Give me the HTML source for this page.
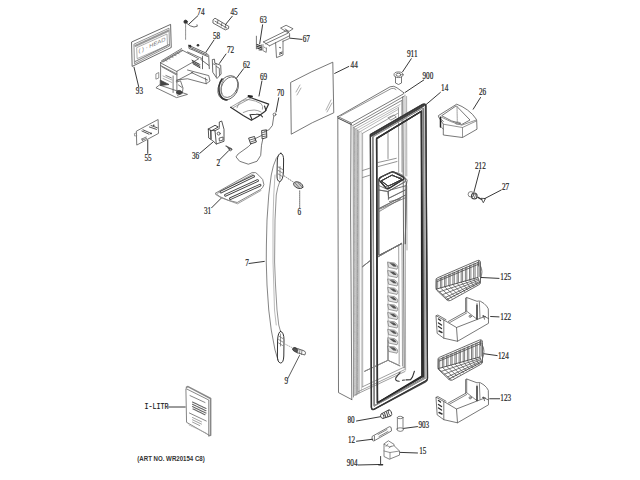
<!DOCTYPE html>
<html><head><meta charset="utf-8">
<style>
html,body{margin:0;padding:0;background:#fff;width:640px;height:480px;overflow:hidden}
svg{position:absolute;left:0;top:0}
.t{font-family:"Liberation Serif",serif;font-size:9.4px;fill:#111;stroke:#333;stroke-width:0.2px}
</style></head><body>
<svg width="640" height="480" viewBox="0 0 640 480">
<g fill="none" stroke="#555" stroke-width="0.8" stroke-linejoin="round" stroke-linecap="round">
<!-- 93 panel -->
<path d="M131.9,41.9 L170.6,24.4 L171.25,47.5 L132.5,66.25 Z" stroke="#444"/>
<path d="M134.3,44 L169,28.2 L169.5,46 L134.8,63.6 Z" stroke="#777"/>
<path d="M137,47.5 L167,34 L167.5,45.5 L137.5,58.5 Z" stroke="#999"/>
<path d="M135.5,45.8 L168.3,30.8" stroke="#999" stroke-width="2.2" stroke-dasharray="0.8,0.8"/>
<path d="M135.2,61.5 L169.2,44.5" stroke="#888" stroke-width="1.2" stroke-dasharray="1,0.7"/>
<text transform="translate(138.5,53) skewY(-24.3)" textLength="27" lengthAdjust="spacingAndGlyphs" style="font-family:'Liberation Sans',sans-serif;font-size:5.6px;fill:#777;stroke:none">(  )  &#183; HEAD</text>
<!-- 74 -->
<circle cx="185.6" cy="21.8" r="1.7" fill="#333" stroke="#333"/>
<path d="M185.6,24 L185.6,40" stroke="#777" stroke-dasharray="1,0.6"/>
<path d="M187,23.5 Q190,26.5 194,27 L197.3,26.2 L197,24.8" stroke="#444"/>
<!-- 45 -->
<path d="M213.3,19.6 L215,18.2 L228.8,26.4 L228.5,28.6 L225.3,29.9 L213.3,23.2 Z" stroke="#444"/>
<path d="M215,21.2 L226.8,28 M218,20.3 L217.3,23.6 M222,22.8 L221.3,26 M225.8,25 L225,28.2" stroke="#555"/>
<!-- 58 housing -->
<path d="M160.6,62.5 L181.9,50 L198.75,58.75 L176.9,71.25 Z" stroke="#555"/>
<path d="M161.5,60.8 L181.6,48.6 M163,62 L182.6,50.6" stroke="#555"/>
<path d="M165,60 L167,61 M168,58.2 L170,59.2 M171,56.4 L173,57.4 M174,54.6 L176,55.6 M177,52.8 L179,53.8" stroke="#777"/>
<path d="M160.6,65.5 L176.9,74" stroke="#666"/>
<path d="M160.6,62.5 L160.6,85 M176.9,71.25 L176.9,94 M173.1,76 L173.1,92.5" stroke="#555"/>
<path d="M156.25,87.5 L159.4,85 L187.5,94.4 L176.9,97.5 Z" stroke="#555"/>
<path d="M160.6,80.3 L169,84.5 L160.6,85.5 Z" fill="#444" stroke="#444"/>
<path d="M156.25,73.75 L158.75,72.5 L158.75,78 L156.25,79 Z" stroke="#777"/>
<path d="M176.9,80 L187.5,78.75 L206.25,83.75 L210,81 L208.75,75.6 L187.5,70 M191.25,72.5 L207.5,80 M206.25,83.75 L205.5,78" stroke="#555"/>
<path d="M188.7,45.3 L207,53.5 L208.7,55.5 L209.3,68.7 M190,47.3 L207.3,55.2 M192,49.5 L207.5,56.5 M188.7,45.3 L189,48.5 L192,49.5 M202.5,56.25 L202.5,68.75 M200.7,59.3 L208.7,65.3" stroke="#444"/>
<circle cx="190" cy="46" r="1.3" fill="#333" stroke="none"/>
<circle cx="198" cy="45.3" r="1.3" fill="#333" stroke="none"/>
<path d="M192.5,62 L199.5,66 M193,63.8 L200,67.8 M192,60.2 L199,64.2" stroke="#333" stroke-width="0.9"/>
<path d="M187.5,51.9 L202.5,58.75 M192.5,61 L200,64.5 M193,63 L200,66.5" stroke="#555"/>
<path d="M176.5,82 L180.5,80.8 L183,88 L182.3,93.5 L177.5,95.3 M178.5,85 L182,87.5" stroke="#555"/>
<ellipse cx="179.2" cy="92.3" rx="2.6" ry="1.9" fill="#444" stroke="#333"/>
<path d="M176.2,81 L192.9,72.3 M161.9,66.8 L176.2,74.7 M165.9,75.5 L171.4,77.9" stroke="#555"/>
<path d="M163,76 L172,80 M163,78.5 L172,82.5" stroke="#999"/>
<!-- 72 -->
<path d="M212.7,59.5 L214.5,59.2 L214.8,63.2 L216,63.5 L220.7,65.3 L221.1,74 L217,78.5 L213,72.6 Z" stroke="#444"/>
<path d="M216,63.5 L216.3,76.8 M216.3,66.5 L219.3,68.2 L219.5,75.5 M213.5,64 L214.8,64.5" stroke="#555"/>
<!-- 62 ring -->
<ellipse cx="228.2" cy="87.8" rx="9.6" ry="12.8" transform="rotate(28 228.2 87.8)" stroke="#555"/>
<ellipse cx="229.4" cy="87.2" rx="7.6" ry="10.9" transform="rotate(28 229.4 87.2)" stroke="#666"/>
<path d="M222,79 Q217,86 220,95 Q223,100 227,100" stroke="#333" stroke-width="1.6"/>
<path d="M223.5,79.5 Q219.5,87 222,94" stroke="#777"/>
<!-- 63 spring -->
<path d="M256.4,36.2 L256.4,48.9" stroke="#555"/>
<path d="M257,44.5 L261,46 M257,46.3 L261.3,47.8 M257.2,48 L261.3,49.6" stroke="#333" stroke-width="1.1"/>
<path d="M261.3,44.8 L261.6,50.2 L259,50" stroke="#555"/>
<!-- 67 bracket -->
<path d="M263.4,41.9 L286.5,30.6 M265.5,43.8 L288.3,33 M269.5,45.8 L289.6,35.75 M263.4,41.9 L269.5,45.8 M286.5,30.6 L289.6,33.5 L289.6,38.4 L283,41.3" stroke="#555"/>
<path d="M280.9,27.9 L286.1,25.25 L293.1,28.75 L287.9,32.25 Z M285,29 L288.5,31" stroke="#555"/>
<path d="M275.6,42.75 L276.5,57.6 L283,55 L283,41" stroke="#555"/>
<path d="M279.6,47.5 L280.6,47.8 M279.5,53 L282,52 M279.5,54.3 L282,53.3" stroke="#444" stroke-width="0.9"/>
<path d="M263,44.5 L262.8,50.5 L266.2,52.4 L266.5,48 M264,47 L265.5,48" stroke="#666"/>
<!-- 69 tray -->
<path d="M230.6,107.3 L248.5,96.8 M233.5,107.5 L250.5,98.3" stroke="#888"/>
<path d="M248.4,96.8 L268.7,104.1 L265.2,111.3 L258,116.5 L251.4,120.3 L243.2,115.4 L230.6,107.3" stroke="#333" stroke-width="1.2"/>
<path d="M248.5,96 L252,96.5" stroke="#222" stroke-width="1.8"/>
<path d="M237,107.8 Q238.5,102 241.8,101 Q245,99.5 248.7,99.6 Q256,100.5 261.1,103.7 Q263.5,106 262.5,109.2" stroke="#888"/>
<path d="M243.2,112.5 Q248,110 254.2,110 Q258,110.2 261.1,112" stroke="#888"/>
<path d="M250,114.7 L252,119.5 M250,114.7 L256,114.3 Q259,114 260.4,114.7 L262.5,116.8 M264.5,106 L266,110.5" stroke="#333" stroke-width="1.1"/>
<!-- 70 wire -->
<circle cx="274.5" cy="114.5" r="1.4" stroke="#555"/>
<path d="M273.8,116 L272.4,125.5 L268.75,130 L264.5,131.2" stroke="#555"/>
<path d="M262.9,138.6 L261.5,145.2 L260.7,155.4 L257,161.25 L248.3,164.2 L239.6,161.25 L236,156.9 L238.1,154 L248.3,146.7 L251.5,143.5" stroke="#555"/>
<path d="M262,130.5 L266.5,129.8 L266.8,137.5 L262.5,138.8 Z" stroke="#333" stroke-width="0.9"/>
<path d="M262.6,132.5 L266.2,131.8 M262.6,134.6 L266.4,133.9 M262.6,136.6 L266.5,136" stroke="#444" stroke-width="0.8"/>
<path d="M249,138 L254.5,136.5 L256.4,142 L251,143.8 Z" stroke="#333" stroke-width="0.9"/>
<path d="M250,140 L255,138.5 M250.6,142 L255.6,140.4" stroke="#444" stroke-width="0.8"/>
<path d="M254.5,139 L262.5,135" stroke="#555"/>
<!-- 44 glass -->
<path d="M291,82.25 Q312,71 332.8,62.2 L333.75,112.8 Q312,122 291.6,134 Z"/>
<path d="M296,92 L300,85 M297,95 L301,88 M326,110 L331,100 M327,112 L332,103" stroke="#999"/>
<!-- 55 -->
<path d="M136.7,131 L158.1,119.5 L158.5,133.4 L137.1,144.9 Z" stroke="#555"/>
<path d="M136.7,133 L134.4,133.5 L134.6,136 L136.8,135.8" stroke="#888"/>
<path d="M141.9,131 L149,134.2 M143,129.8 L150.2,133 M149.4,127 L156.5,129.4 M151,125.5 L157.3,127.8" stroke="#444" stroke-width="0.9"/>
<path d="M141.9,139 L146.2,137 M142.3,140.3 L146.6,138.3 M141.9,139 L142.3,140.3" stroke="#555"/>
<circle cx="153.75" cy="125.2" r="0.8" fill="#333" stroke="none"/>
<circle cx="151" cy="133.4" r="0.9" fill="#333" stroke="none"/>
<!-- 36 switch -->
<path d="M208.3,129 L215,125.3 L218.3,127 L212,130.5 Z" stroke="#333" stroke-width="0.9"/>
<path d="M208.3,129 L208.7,138 L212.7,140.7 L216.3,144 L224,141.3 L224,129.3 L221.7,121 L219.3,122 L219.3,127.3 M212,130.5 L215,130.7 L216.3,144 M215,130.7 L219.3,128.5" stroke="#444" stroke-width="0.9"/>
<path d="M210.8,130.3 L211,138.8" stroke="#333" stroke-width="1.3"/>
<circle cx="218.7" cy="133.6" r="1.5" stroke="#444"/>
<path d="M219.5,138 L223,137 L223,140 L219.8,141 Z" stroke="#444"/>
<!-- 2 screw -->
<path d="M226,146 L231.5,149 M227.5,147 L230,149.8" stroke-width="1.2"/>
<circle cx="230.5" cy="149.5" r="1.3"/>
<!-- 31 grille -->
<path d="M215.6,193.1 L252.2,172.5 Q256,171.5 258.75,175.3 Q264,179 263.9,184.7 Q263,188 260.6,189.4 L237.2,202.5 Q228,201 220.3,196.9 Z" stroke="#666"/>
<path d="M217.5,193.3 L253,174 M215.6,194.5 L221.25,197.8 L237.5,203.8 L261,190.5" stroke="#888"/>
<g stroke-linecap="round">
<path d="M221,192 L253.5,176.3 M225.5,195.2 L257.5,180.6 M230.5,198.6 L260,185.2" stroke="#444" stroke-width="2.8"/>
<path d="M221,192 L253.5,176.3 M225.5,195.2 L257.5,180.6 M230.5,198.6 L260,185.2" stroke="#fff" stroke-width="1"/>
</g>
<!-- 6 -->
<ellipse cx="298.3" cy="185.2" rx="5" ry="3" transform="rotate(25 298.3 185.2)" fill="#ccc" stroke="#333"/>
<path d="M295.5,183.5 L299,187.5 M298,182.5 L301.5,186.5" stroke="#666"/>
<path d="M299.7,190.8 L299.7,208.3" stroke-dasharray="1.2,0.8"/>
<path d="M284,175.8 L294,182.5" stroke-dasharray="1,1.5" stroke="#999"/>
<!-- 7 handle -->
<path d="M278.2,156 L276.3,158.3 Q273,165 271.25,175 L268.75,195 L267,220 L266.4,245 L266.25,262 L267,285 L268.75,310 L271.25,330 L275,350 L278,360" stroke="#666"/>
<path d="M279.7,181.7 Q277.5,187 276.25,195 L275,220 L274.6,262 L275.5,285 L277,310 L278.75,325 L280.5,331.3" stroke="#777"/>
<path d="M275,175 L273.75,195 L273,220 L273,262 L273.75,285 L274.5,310 L276.25,325" stroke="#aaa"/>
<path d="M280.9,153.3 Q283.6,154 283.6,160 L283.4,172 Q283,180.5 279.7,181.7 Q277,181 277,176 L277.3,160 Q277.8,153.5 280.9,153.3 Z" stroke="#333" stroke-width="1"/>
<path d="M278.3,167 L282.6,169.5 M278.3,170.5 L282.6,173 M278.3,174 L282.3,176.5 M280,166.5 L280,179" stroke="#666" stroke-width="0.7"/>
<path d="M280.6,331.3 Q284,332 284,340 L283.8,356 Q283.5,363 280.6,363 Q277.4,362.5 277.4,356 L277.6,340 Q278,332 280.6,331.3 Z" stroke="#333" stroke-width="1"/>
<path d="M278.6,336 L282.8,338.5 M278.6,339.5 L282.8,342 M278.6,343 L282.6,345.5 M280.5,334 L280.5,346" stroke="#666" stroke-width="0.7"/>
<path d="M284,175.8 L294,182.5" stroke-dasharray="1,1.5" stroke="#999"/>
<path d="M284.4,343.75 L294.8,349" stroke-dasharray="1,1.5" stroke="#999"/>
<!-- 9 -->
<ellipse cx="295.2" cy="349.8" rx="1.8" ry="2.8" transform="rotate(-60 295.2 349.8)" fill="#555" stroke="#333"/>
<path d="M294.3,347.5 L304.5,351 Q306.5,352.5 304.8,355 L296,352.3" stroke="#444"/>
<path d="M298,348.8 L297.5,353 M300,349.5 L299.5,353.8 M302,350.2 L301.5,354.5" stroke="#666"/>
<path d="M299.5,355.5 L287.8,378.5" stroke="#333"/>
<!-- door 900 -->
<path d="M337.9,116.6 L390.1,86.8 Q394,85.3 397,87.8 L403.6,92.6"/>
<path d="M337.9,116.6 L351.4,123.1 L403.6,93.8 L403.6,92.6"/>
<path d="M340.5,116 L391.2,88.6 Q394,87.5 396,89.5" stroke="#777"/>
<path d="M338.2,118.2 L351.4,124.6" stroke="#444" stroke-width="1"/>
<path d="M337.8,116.6 L338.5,392.6 L351.8,399.6 M351,123.1 L350.6,212 L351.8,399.6"/>
<path d="M352.6,125.6 L404.2,96.2 M353.8,127.4 L401.8,100.4" stroke="#666"/>
<path d="M355.5,129 L400,104.5 M357.5,130.5 L399,107 M359.5,132 L398,109.5" stroke="#aaa"/>
<path d="M362.3,133.5 L397.5,113.5" stroke="#888"/>
<path d="M353.2,127 L353.5,397" stroke="#777"/>
<path d="M354.6,128 L354.9,396 M357.4,130 L357.6,394" stroke="#888" stroke-dasharray="1.2,0.6"/>
<path d="M356,129 L356.3,395 M358.8,131 L359,393" stroke="#777"/>
<path d="M361.2,132 L361.4,390" stroke="#bbb"/>
<path d="M362.6,133.5 L362.7,386.9" stroke="#999"/>
<path d="M402.8,97 L403.4,212 L404.2,368" stroke="#444"/>
<path d="M405,95 L405.2,176 M405.2,186 L405.6,370 M406.6,96.5 L406.8,176 M406.8,186 L407,250" stroke="#999"/>
<path d="M401.8,100.4 L402,172 M398.5,108 L398.7,172 M402,244 L402.5,366 M398.7,246 L399.2,364" stroke="#888"/>
<path d="M355,395 L405,371.5 M358.4,391.6 L404.5,369.7 M362.3,386.9 L403.75,367.3" stroke="#888"/>
<path d="M388,132.5 L388,158.5 M378,162.5 L396.3,158.3 M378.3,166.5 L397,161.5 M362.6,170.5 L369.5,168.3 M362.6,177.5 L369.5,175.3" stroke="#777"/>
<path d="M388.5,117.5 L394,115 L396.3,117 L391,120 Z" stroke="#777"/>
<!-- dispenser -->
<path d="M379,179.3 Q379.2,178 381,177 L391,172.3 Q392.75,171.6 394.5,172.4 L403.2,177 Q404.8,178.3 403.2,179.6 L389.6,187.9 Q387.6,188.9 385.8,187.9 L380.2,181.3 Q378.8,180.3 379,179.3 Z" stroke="#333" stroke-width="1.2"/>
<path d="M381.6,180.6 L392.2,175 L401.8,179.5 L388.6,186 Z" stroke="#333" stroke-width="1"/>
<path d="M378.7,180 L378.7,255 M378.7,190 L388,191.5 L405.3,181.6 L405.3,178.8 M388,191.5 L388.6,197.5 M388.6,198.3 L405.3,190 M378.7,208.7 L405.3,195.2 M406.3,182 L405.3,243.75 M379.5,255 L401.6,243.75" stroke="#666"/>
<path d="M378.7,211.8 L400,199.3" stroke="#999"/>
<path d="M362.5,266.7 L370,260.8 M378.3,256.7 L401.7,243.3" stroke="#777"/>
<path d="M364.7,371.25 L388,360.3 L399.8,365.8 M388,360.3 L388,340" stroke="#888"/>
<!-- gasket 14 -->
<path d="M371.3,407 L370.4,134.4 L423,104.2 Q425.8,103.4 426.2,106" stroke="#444" stroke-width="1.1"/>
<path d="M426.2,106 L427.4,379" stroke="#999" stroke-width="0.9"/>
<path d="M427.4,379 Q427.4,381 425.5,382 L374,409.5 Q371.3,410.3 371.3,407" stroke="#444" stroke-width="1.1"/>
<path d="M371.5,135.8 L424,105.5" stroke="#444" stroke-width="1.6"/>
<path d="M373,136.8 L374.3,406" stroke="#555" stroke-width="1"/>
<path d="M374.3,406 L425.8,378" stroke="#666" stroke-width="0.9"/>
<path d="M425.4,107 L425.9,378" stroke="#aaa" stroke-width="0.8"/>
<path d="M423.5,108.5 L423.9,377.5" stroke="#444" stroke-width="1.1"/>
<path d="M376.6,138.4 L421.3,111.2 L421.8,376 L377.4,402.8 Z" stroke="#222" stroke-width="1.3"/>
<!-- dispenser -->
<path d="M379,179.3 Q379.2,178 381,177 L391,172.3 Q392.75,171.6 394.5,172.4 L403.2,177 Q404.8,178.3 403.2,179.6 L389.6,187.9 Q387.6,188.9 385.8,187.9 L380.2,181.3 Q378.8,180.3 379,179.3 Z" stroke="#333" stroke-width="1.2"/>
<path d="M381.6,180.6 L392.2,175 L401.8,179.5 L388.6,186 Z" stroke="#333" stroke-width="1"/>
<path d="M378.7,180 L378.7,255 M378.7,190 L388,191.5 L405.3,181.6 L405.3,178.8 M388,191.5 L388.6,197.5 M388.6,198.3 L405.3,190 M378.7,208.7 L405.3,195.2 M406.3,182 L405.3,243.75 M379.5,255 L401.6,243.75" stroke="#666"/>
<path d="M378.7,211.8 L400,199.3" stroke="#999"/>
<path d="M362.5,266.7 L370,260.8 M378.3,256.7 L401.7,243.3" stroke="#777"/>
<path d="M364.7,371.25 L388,360.3 L399.8,365.8 M388,360.3 L388,340" stroke="#888"/>
<!-- gasket 14 -->
<path d="M370.4,134.4 L422.5,104.2 Q425.6,103 425.8,106 L427.6,378.3 Q427.6,380 425.5,381 L374,409.3 Q371.3,410.3 371.3,407 Z" stroke="#555" stroke-width="1.1"/>
<path d="M371.5,135.6 L423.6,105.6" stroke="#444" stroke-width="1.6"/>
<path d="M373,136.6 L422.8,108 L423.9,206 L424.4,377.6 L374.3,405.5 Z" stroke="#666" stroke-width="0.9"/>
<path d="M376.6,138.6 L421.3,111.2 L422.8,376.2 L377.4,402.8 Z" stroke="#222" stroke-width="1.3"/>
<path d="M425.8,107 L427.6,378" stroke="#aaa" stroke-width="0.8" transform="translate(-1.6,0)"/>
<!-- dispenser -->
<path d="M379,180 Q381,176 391.25,172.5 Q399,172 403,175.5 L407.2,180 L406.3,185.6 L389.4,190.3 L379,185.6 Z"/>
<path d="M381.5,181 L391.25,175.5 L401.6,178 L399.7,181.9 L385.6,186.6 Z" stroke="#444"/>
<path d="M379,186 L379,255 M388.4,191.25 L388.4,199.7 M380,209 L405.3,197.8 M389.4,201.6 L400.6,198.75 M406.3,185.6 L405.3,243.75 M380,255 L401.6,243.75" stroke="#666"/>
<path d="M362.5,266.7 L370,260.8 M378.3,256.7 L401.7,243.3" stroke="#777"/>
<path d="M364.7,371.25 L388,360.3 L399.8,365.8 M388,360.3 L388,340" stroke="#888"/>
<!-- gasket 14 -->
<path d="M370.4,134.8 L422.5,104.8 Q425.5,103.8 425.8,106.5 L427.5,378.5 Q427.5,380 425.5,381 L374,409.2 Q371.5,410 371.5,407 Z" stroke="#333" stroke-width="1.3"/>
<path d="M373.2,136.8 L423,107.8 L424.9,378 L374.6,405.8 Z" stroke="#999" stroke-width="0.8"/>
<path d="M376.5,138.6 L421.5,111.2 L423.4,376.5 L377.6,403 Z" stroke="#333" stroke-width="1.3"/>
<!-- pockets -->
<path d="M387.8,262 L388.3,352" stroke="#aaa"/>
<path d="M388,262.2 L394.5,263.0 Q397.5,264.7 397.8,267.2 L397,269.2 L389,267.5 Z" stroke="#777" stroke-width="0.7" fill="#e4e4e4"/>
<path d="M389.3,263.1 L394,263.6 Q396,264.8 396.6,266.8 L393.5,266.4 Z" fill="#555" stroke="none"/>
<path d="M388,270.6 L394.5,271.4 Q397.5,273.1 397.8,275.6 L397,277.6 L389,275.9 Z" stroke="#777" stroke-width="0.7" fill="#e4e4e4"/>
<path d="M389.3,271.5 L394,272.0 Q396,273.2 396.6,275.2 L393.5,274.8 Z" fill="#555" stroke="none"/>
<path d="M388,279.0 L394.5,279.8 Q397.5,281.5 397.8,284.0 L397,286.0 L389,284.3 Z" stroke="#777" stroke-width="0.7" fill="#e4e4e4"/>
<path d="M389.3,279.9 L394,280.4 Q396,281.6 396.6,283.6 L393.5,283.2 Z" fill="#555" stroke="none"/>
<path d="M388,287.4 L394.5,288.2 Q397.5,289.9 397.8,292.4 L397,294.4 L389,292.7 Z" stroke="#777" stroke-width="0.7" fill="#e4e4e4"/>
<path d="M389.3,288.3 L394,288.8 Q396,290.0 396.6,292.0 L393.5,291.6 Z" fill="#555" stroke="none"/>
<path d="M388,295.8 L394.5,296.6 Q397.5,298.3 397.8,300.8 L397,302.8 L389,301.1 Z" stroke="#777" stroke-width="0.7" fill="#e4e4e4"/>
<path d="M389.3,296.7 L394,297.2 Q396,298.4 396.6,300.4 L393.5,300.0 Z" fill="#555" stroke="none"/>
<path d="M388,304.2 L394.5,305.0 Q397.5,306.7 397.8,309.2 L397,311.2 L389,309.5 Z" stroke="#777" stroke-width="0.7" fill="#e4e4e4"/>
<path d="M389.3,305.1 L394,305.6 Q396,306.8 396.6,308.8 L393.5,308.4 Z" fill="#555" stroke="none"/>
<path d="M388,312.6 L394.5,313.4 Q397.5,315.1 397.8,317.6 L397,319.6 L389,317.9 Z" stroke="#777" stroke-width="0.7" fill="#e4e4e4"/>
<path d="M389.3,313.5 L394,314.0 Q396,315.2 396.6,317.2 L393.5,316.8 Z" fill="#555" stroke="none"/>
<path d="M388,321.0 L394.5,321.8 Q397.5,323.5 397.8,326.0 L397,328.0 L389,326.3 Z" stroke="#777" stroke-width="0.7" fill="#e4e4e4"/>
<path d="M389.3,321.9 L394,322.4 Q396,323.6 396.6,325.6 L393.5,325.2 Z" fill="#555" stroke="none"/>
<path d="M388,329.4 L394.5,330.2 Q397.5,331.9 397.8,334.4 L397,336.4 L389,334.7 Z" stroke="#777" stroke-width="0.7" fill="#e4e4e4"/>
<path d="M389.3,330.3 L394,330.8 Q396,332.0 396.6,334.0 L393.5,333.6 Z" fill="#555" stroke="none"/>
<path d="M388,337.8 L394.5,338.6 Q397.5,340.3 397.8,342.8 L397,344.8 L389,343.1 Z" stroke="#777" stroke-width="0.7" fill="#e4e4e4"/>
<path d="M389.3,338.7 L394,339.2 Q396,340.4 396.6,342.4 L393.5,342.0 Z" fill="#555" stroke="none"/>
<path d="M388,346.2 L394.5,347.0 Q397.5,348.7 397.8,351.2 L397,353.2 L389,351.5 Z" stroke="#777" stroke-width="0.7" fill="#e4e4e4"/>
<path d="M389.3,347.1 L394,347.6 Q396,348.8 396.6,350.8 L393.5,350.4 Z" fill="#555" stroke="none"/>
<path d="M400,372.5 L395.8,377.8 Q394.8,381 399.2,381.3 M402.5,380.3 L404.5,380 M406,379.9 L410.6,379.6 L412.5,376.9 L414.4,371.3" stroke="#333" stroke-width="1.1"/>
<!-- 911 -->
<ellipse cx="398.5" cy="74.75" rx="4.5" ry="2.8"/>
<ellipse cx="398.5" cy="74.75" rx="2.5" ry="1.5"/>
<path d="M395.5,77 L395.5,83 Q398.5,86 401.5,83 L401.5,77"/>
<!-- 26 -->
<path d="M438.75,115.4 L456.7,104.2 Q462,106 467.5,110 Q473,114 476.25,119.2 L476.7,120.8 L477,129.2 L462.5,137.5 L443.3,135 L443.3,124.2 L438.75,117.2 Z" stroke="#555"/>
<path d="M442,115.5 L456.25,105.8 L470,120 L461.7,124.5 Q457,122 452,121 Z" stroke="#555"/>
<path d="M457,106.5 L457.3,121.5" stroke="#888" stroke-dasharray="1,0.8"/>
<ellipse cx="457.8" cy="123.2" rx="2.6" ry="1.1" stroke="#777"/>
<path d="M440,116.5 Q450,122 461.7,125.2 L476.25,120 M443.3,124.2 L462.5,127.5 L476.7,120.8 M462.5,127.5 L462.5,137.5" stroke="#777"/>
<path d="M440.5,117.5 L440.5,127" stroke="#222" stroke-width="1.5"/>
<path d="M441.5,119.5 L443.3,121.5 M441.6,127.5 L443.3,129" stroke="#555"/>
<!-- 212 / 27 -->
<ellipse cx="471" cy="194.3" rx="2.9" ry="2.7" stroke="#666"/>
<ellipse cx="474.3" cy="196" rx="2.8" ry="3" stroke="#444" stroke-width="1.1"/>
<path d="M473,194 L475,198.5 M475,193.5 L476.5,197.5" stroke="#555"/>
<path d="M478,197.4 L481.7,199.5" stroke="#333" stroke-width="1.4"/>
<path d="M481.5,198.3 L485.5,198.6 L483.5,202.4 Z" stroke="#444" stroke-width="0.9"/>
<!-- 125 basket -->
<path d="M436,280 Q435.5,278.5 437.5,277.8 L477.5,260.5 Q480.5,259.5 480.5,263 L480.5,282.5 Q480.5,284 478.5,285 L450.5,300.5 Q448.5,301.3 447,300 L437,290.5 Q436,289.5 436,288 Z" stroke="#444"/>
<path d="M437.5,281.5 L479,264 M438.5,279.4 L478,262.4" stroke="#444"/>
<path d="M436.3,279.8 L436.3,289.1 L449.0,300.0 M437.7,279.2 L437.7,288.2 M440.4,278.0 L440.4,287.9 L452.1,298.3 M441.8,277.4 L441.8,287.0 M444.6,276.3 L444.6,286.8 L455.2,296.6 M446.0,275.7 L446.0,285.9 M448.8,274.5 L448.8,285.6 L458.3,294.9 M450.1,273.9 L450.1,284.7 M452.9,272.8 L452.9,284.5 L461.4,293.2 M454.3,272.2 L454.3,283.6 M457.1,271.0 L457.1,283.3 L464.5,291.5 M458.4,270.4 L458.4,282.4 M461.2,269.2 L461.2,282.1 L467.6,289.8 M462.6,268.6 L462.6,281.2 M465.4,267.5 L465.4,281.0 L470.7,288.1 M466.8,266.9 L466.8,280.1 M469.5,265.7 L469.5,279.8 L473.8,286.4 M470.9,265.1 L470.9,278.9 M473.7,264.0 L473.7,278.7 L476.9,284.7 M475.1,263.4 L475.1,277.8 M477.8,262.2 L477.8,277.5 L480.0,283.0 M479.2,261.6 L479.2,276.6" stroke="#555" stroke-width="0.75"/>
<path d="M439.5,291.8 L478.4,278.9 M442.6,294.6 L478.9,280.2 M445.8,297.3 L479.4,281.6" stroke="#555" stroke-width="0.8"/>
<path d="M436.3,289.1 L477.8,277.5 M447,299.5 L480,282.5" stroke="#444" stroke-width="0.9"/>
<path d="M478.5,261 L478.5,266 M480.5,266 Q483.5,271 480.5,279" stroke="#555"/>
<!-- 122 bin -->
<path d="M436.3,315.8 L443.8,320 L456.5,327.5 L457.5,341.3 L443.8,338.2 L437.5,333.6 Z" stroke="#555"/>
<path d="M443.8,320 L443.8,338.2 M436.3,315.8 L437.8,315 L446,319.7 M457.5,341.3 L488.5,323.3 L488.3,308.8 Q487,306 484,303.5 L480.5,301.3 Q478.5,300.7 477,301.3 L466.7,297.5 L466.7,311.2 L448.3,321.5 M456.5,327.5 L484.5,316.6 L488.5,318.5" stroke="#555"/>
<path d="M477,303.5 L477,319.2 M479.4,302 L480,317.5 M466.7,311.2 L477,319.2 M466.7,297.5 L465.5,298 L465.5,311.8 M449.5,322.7 L466.7,313" stroke="#666"/>
<path d="M477,305 L477,319" stroke="#222" stroke-width="1.2"/>
<path d="M438.5,319 L440.5,320.5 M438.5,323 L441.5,325 M438.5,326.5 L441.5,328.5 M439,331 L442,332.5" stroke="#333" stroke-width="1.4"/>
<circle cx="470.2" cy="316.3" r="1.1" stroke="#555"/>
<path d="M483.5,315.5 L484.5,319.2 M482.5,316 L485.5,316.5" stroke="#444"/>
<!-- 124 basket -->
<g transform="translate(2,79.5)">
<path d="M436,280 Q435.5,278.5 437.5,277.8 L477.5,260.5 Q480.5,259.5 480.5,263 L480.5,282.5 Q480.5,284 478.5,285 L450.5,300.5 Q448.5,301.3 447,300 L437,290.5 Q436,289.5 436,288 Z" stroke="#444"/>
<path d="M437.5,281.5 L479,264 M438.5,279.4 L478,262.4" stroke="#444"/>
<path d="M436.3,279.8 L436.3,289.1 L449.0,300.0 M437.7,279.2 L437.7,288.2 M440.4,278.0 L440.4,287.9 L452.1,298.3 M441.8,277.4 L441.8,287.0 M444.6,276.3 L444.6,286.8 L455.2,296.6 M446.0,275.7 L446.0,285.9 M448.8,274.5 L448.8,285.6 L458.3,294.9 M450.1,273.9 L450.1,284.7 M452.9,272.8 L452.9,284.5 L461.4,293.2 M454.3,272.2 L454.3,283.6 M457.1,271.0 L457.1,283.3 L464.5,291.5 M458.4,270.4 L458.4,282.4 M461.2,269.2 L461.2,282.1 L467.6,289.8 M462.6,268.6 L462.6,281.2 M465.4,267.5 L465.4,281.0 L470.7,288.1 M466.8,266.9 L466.8,280.1 M469.5,265.7 L469.5,279.8 L473.8,286.4 M470.9,265.1 L470.9,278.9 M473.7,264.0 L473.7,278.7 L476.9,284.7 M475.1,263.4 L475.1,277.8 M477.8,262.2 L477.8,277.5 L480.0,283.0 M479.2,261.6 L479.2,276.6" stroke="#555" stroke-width="0.75"/>
<path d="M439.5,291.8 L478.4,278.9 M442.6,294.6 L478.9,280.2 M445.8,297.3 L479.4,281.6" stroke="#555" stroke-width="0.8"/>
<path d="M436.3,289.1 L477.8,277.5 M447,299.5 L480,282.5" stroke="#444" stroke-width="0.9"/>
<path d="M478.5,261 L478.5,266 M480.5,266 Q483.5,271 480.5,279" stroke="#555"/>
</g>
<!-- 123 bin -->
<g transform="translate(0,81.5)">
<path d="M436.3,315.8 L443.8,320 L456.5,327.5 L457.5,341.3 L443.8,338.2 L437.5,333.6 Z" stroke="#555"/>
<path d="M443.8,320 L443.8,338.2 M436.3,315.8 L437.8,315 L446,319.7 M457.5,341.3 L488.5,323.3 L488.3,308.8 Q487,306 484,303.5 L480.5,301.3 Q478.5,300.7 477,301.3 L466.7,297.5 L466.7,311.2 L448.3,321.5 M456.5,327.5 L484.5,316.6 L488.5,318.5" stroke="#555"/>
<path d="M477,303.5 L477,319.2 M479.4,302 L480,317.5 M466.7,311.2 L477,319.2 M466.7,297.5 L465.5,298 L465.5,311.8 M449.5,322.7 L466.7,313" stroke="#666"/>
<path d="M477,305 L477,319" stroke="#222" stroke-width="1.2"/>
<path d="M438.5,319 L440.5,320.5 M438.5,323 L441.5,325 M438.5,326.5 L441.5,328.5 M439,331 L442,332.5" stroke="#333" stroke-width="1.4"/>
<circle cx="470.2" cy="316.3" r="1.1" stroke="#555"/>
<path d="M483.5,315.5 L484.5,319.2 M482.5,316 L485.5,316.5" stroke="#444"/>
</g>
<!-- 80 -->
<ellipse cx="382.3" cy="416.1" rx="1.6" ry="2.4" transform="rotate(-20 382.3 416.1)" stroke="#444"/>
<ellipse cx="390" cy="412.8" rx="1.5" ry="3" transform="rotate(-20 390 412.8)" stroke="#444"/>
<path d="M381.5,413.8 L389,409.8 M383.2,418.4 L391,415.8 M384.5,413 L386,417.6 M386.5,412 L388,416.8" stroke="#444" stroke-width="1"/>
<!-- 903 -->
<ellipse cx="400.2" cy="417.5" rx="2.8" ry="1.2" stroke="#666"/>
<path d="M397.4,417.5 L397.4,429 M403,417.5 L403,429 M396.8,429 Q396.8,431.4 400.2,431.4 Q403.6,431.4 403.6,429 Q403.6,427.8 400.2,427.8 Q396.8,427.8 396.8,429" stroke="#666"/>
<!-- 12 -->
<path d="M372.5,436.2 L389.4,426.7 Q391.5,426.5 391.4,429 L391.4,431 L373.8,441 Q372,441 372,439 Z" stroke="#555"/>
<path d="M374.5,436 L374.5,440.5 M378,434.5 L387,429.5 M379,436.5 L388,431.5" stroke="#666"/>
<!-- 15 -->
<path d="M384,444.3 L384,456.5 L389.4,459.2 L399.5,455.1 L399.5,451 L394,445.6 L394,444.3 L388.7,441 Z" stroke="#666"/>
<path d="M384,451 L390,452.5 L399.5,451 M390,452.5 L390,458.8 M384,444.3 L390,447 L394,445.6 M386,446.5 L388,444 M389,448 L391,446" stroke="#777"/>
<!-- 904 -->
<path d="M380.6,456.5 L380.6,464" stroke="#444" stroke-width="1"/>
<path d="M378.8,464.8 L382.6,464.8" stroke="#333" stroke-width="1.4"/>
<!-- booklet -->
<path d="M186.25,388.75 L208.75,400 L208.75,435 L186.9,422.5 Z" stroke="#666"/>
<path d="M186.5,387.2 L188,386.6 L210.6,398.5 L210.6,435.3 L208.75,435.8" stroke="#888" stroke-width="1.6"/>
<path d="M190,395.6 L205,402.5" stroke="#777" stroke-width="0.9"/>
<path d="M192.5,402 L206,408.5 M192.5,404.3 L206,410.8 M192.5,406.6 L206,413.1 M193,408.9 L205,414.8" stroke="#666" stroke-width="1.1" stroke-dasharray="1.5,0.6"/>
<path d="M189.4,413 L206.25,421" stroke="#666"/>
<path d="M192.5,417.5 L201.5,421.8 M192.5,419.8 L201.5,424.1 M192.5,422.1 L200,425.7" stroke="#888" stroke-dasharray="1.5,0.7"/>
<path d="M189,425 L206,433" stroke="#aaa" stroke-dasharray="1,1"/>
<!-- leaders -->
<g stroke="#222" stroke-width="0.9">
<path d="M134,67.2 L138.75,86.9"/>
<path d="M198,15.6 L189,24"/>
<path d="M232.25,16.25 L225.6,24.4"/>
<path d="M214,40 L206,52"/>
<path d="M226,54 L219.4,63.4"/>
<path d="M243.5,68.75 L236.6,78"/>
<path d="M262.6,24.8 L259.7,43.75"/>
<path d="M290.3,38.2 L302,39.4"/>
<path d="M261.9,81 L259,96"/>
<path d="M278.75,97.8 L276,112"/>
<path d="M348.75,66.5 L334.7,73.4"/>
<path d="M147.75,140.3 L147.75,153.4"/>
<path d="M199.7,153.4 L212.8,142.2"/>
<path d="M219.4,160 L228.75,150.6"/>
<path d="M211.6,207.8 L221,198.4"/>
<path d="M249,263.5 L264.3,261.4"/>
<path d="M411.25,58.75 L402.5,71.9"/>
<path d="M423.75,80 L405,92.5"/>
<path d="M440.4,92.4 L425.8,104.8"/>
<path d="M480.5,97.5 L473.2,109.2"/>
<path d="M479.75,170 L474,191.9"/>
<path d="M501.25,190 L484.4,198.75"/>
<path d="M481.25,277.5 L499,278.4"/>
<path d="M490.6,316.5 L499,316.9"/>
<path d="M484,353.75 L497.2,355.6"/>
<path d="M489.7,398.75 L499.6,398.75"/>
<path d="M356.5,421 L380.5,416.7"/>
<path d="M403.75,428.4 L417.5,426.6"/>
<path d="M356.5,441.25 L372.8,439.2"/>
<path d="M400.3,452.4 L417.5,453"/>
<path d="M358.2,465 L378.8,464.5"/>
<path d="M168.5,407 L185.2,407"/>
</g>
</g>
<!-- labels -->
<g class="t">
<text x="197.3" y="14.5" textLength="7.2" lengthAdjust="spacingAndGlyphs">74</text>
<text x="230.5" y="14.5" textLength="7.2" lengthAdjust="spacingAndGlyphs">45</text>
<text x="259.7" y="22.6" textLength="7.2" lengthAdjust="spacingAndGlyphs">63</text>
<text x="302.7" y="41.6" textLength="7.2" lengthAdjust="spacingAndGlyphs">67</text>
<text x="213" y="39" textLength="7.2" lengthAdjust="spacingAndGlyphs">58</text>
<text x="227" y="53" textLength="7.2" lengthAdjust="spacingAndGlyphs">72</text>
<text x="243" y="68" textLength="7.2" lengthAdjust="spacingAndGlyphs">62</text>
<text x="260" y="80" textLength="7.2" lengthAdjust="spacingAndGlyphs">69</text>
<text x="277" y="96" textLength="7.2" lengthAdjust="spacingAndGlyphs">70</text>
<text x="350.6" y="68" textLength="7.2" lengthAdjust="spacingAndGlyphs">44</text>
<text x="135.8" y="94.4" textLength="7.2" lengthAdjust="spacingAndGlyphs">93</text>
<text x="144.4" y="161" textLength="7.2" lengthAdjust="spacingAndGlyphs">55</text>
<text x="192" y="159" textLength="7.2" lengthAdjust="spacingAndGlyphs">36</text>
<text x="216.5" y="165.6" textLength="3.6" lengthAdjust="spacingAndGlyphs">2</text>
<text x="204" y="214.4" textLength="7.2" lengthAdjust="spacingAndGlyphs">31</text>
<text x="297.5" y="215" textLength="3.6" lengthAdjust="spacingAndGlyphs">6</text>
<text x="245.3" y="265.7" textLength="3.6" lengthAdjust="spacingAndGlyphs">7</text>
<text x="284.4" y="384.4" textLength="3.6" lengthAdjust="spacingAndGlyphs">9</text>
<text x="406.9" y="56.9" textLength="10.8" lengthAdjust="spacingAndGlyphs">911</text>
<text x="422.5" y="78.75" textLength="10.8" lengthAdjust="spacingAndGlyphs">900</text>
<text x="441.1" y="91" textLength="7.2" lengthAdjust="spacingAndGlyphs">14</text>
<text x="479" y="95.3" textLength="7.2" lengthAdjust="spacingAndGlyphs">26</text>
<text x="475" y="168.75" textLength="10.8" lengthAdjust="spacingAndGlyphs">212</text>
<text x="501.9" y="190" textLength="7.2" lengthAdjust="spacingAndGlyphs">27</text>
<text x="500.3" y="280" textLength="10.8" lengthAdjust="spacingAndGlyphs">125</text>
<text x="500.3" y="319.7" textLength="10.8" lengthAdjust="spacingAndGlyphs">122</text>
<text x="498" y="359.4" textLength="10.8" lengthAdjust="spacingAndGlyphs">124</text>
<text x="500.3" y="400.6" textLength="10.8" lengthAdjust="spacingAndGlyphs">123</text>
<text x="347.4" y="422.7" textLength="7.2" lengthAdjust="spacingAndGlyphs">80</text>
<text x="418.4" y="428.4" textLength="10.8" lengthAdjust="spacingAndGlyphs">903</text>
<text x="347.9" y="443" textLength="7.2" lengthAdjust="spacingAndGlyphs">12</text>
<text x="419.2" y="454" textLength="7.2" lengthAdjust="spacingAndGlyphs">15</text>
<text x="346.7" y="466.2" textLength="10.8" lengthAdjust="spacingAndGlyphs">904</text>
<text x="144.6" y="408.6" textLength="24" lengthAdjust="spacingAndGlyphs" style="font-family:'Liberation Mono',monospace;font-size:8.8px">I-LITR</text>
</g>
<text x="137.3" y="461.4" textLength="67.5" lengthAdjust="spacingAndGlyphs" style="font-family:'Liberation Sans',sans-serif;font-size:7.6px;font-weight:bold;fill:#333">(ART NO. WR20154 C8)</text>
</svg>
</body></html>
